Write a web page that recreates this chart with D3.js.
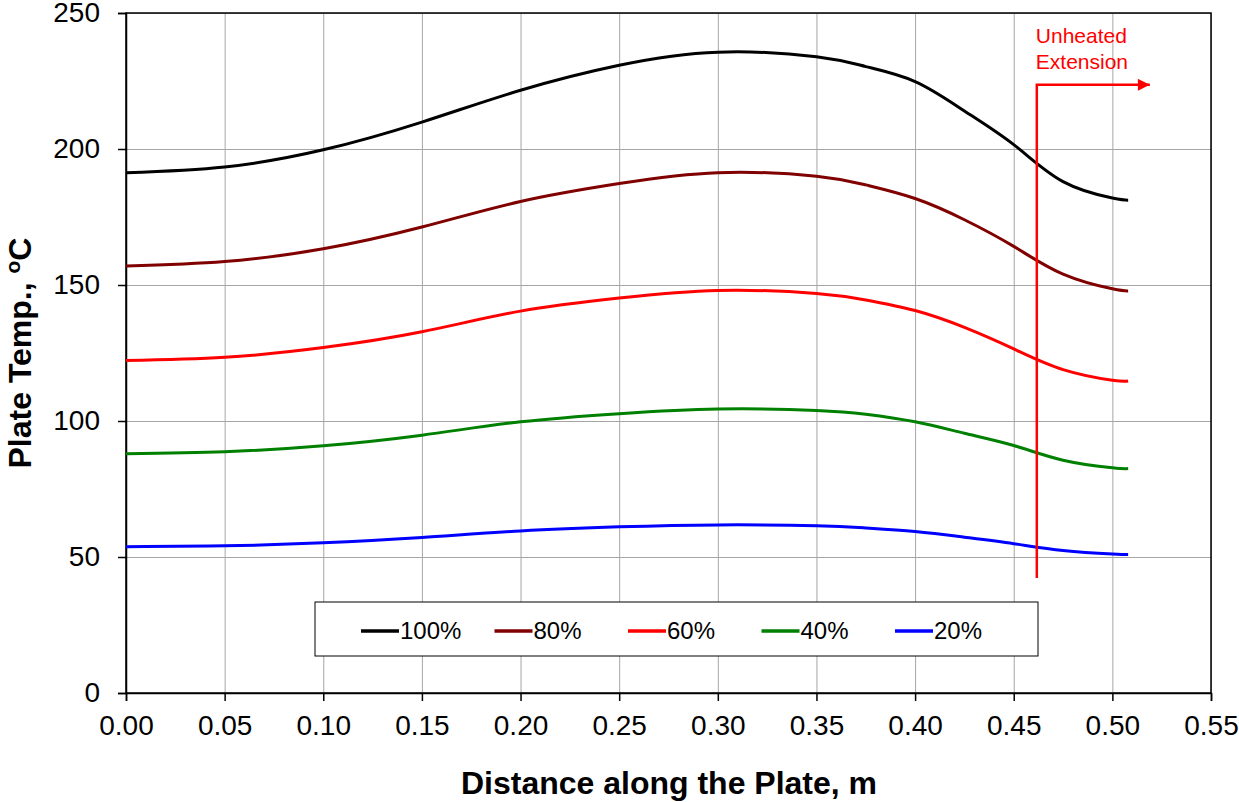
<!DOCTYPE html>
<html>
<head>
<meta charset="utf-8">
<script src="https://cdn.jsdelivr.net/npm/d3@7"></script>
<style>
  body { margin: 0; background: #fff; }
  svg { font-family: Arial, "Liberation Sans", sans-serif; }
  .grid line { stroke: #a6a6a6; stroke-width: 1; }
  .grid path { display: none; }
  .axis text { font-size: 28px; fill: #000; }
  .axis path, .axis line { stroke: #000; stroke-width: 1.5; }
  .label { font-size: 32px; font-weight: bold; }
  .legend text { font-size: 24px; }
</style>
</head>
<body>
<svg width="1239" height="802"></svg>
<script>
// distance along the plate (m)
const distance = [0, 0.05, 0.10, 0.15, 0.20, 0.25, 0.30, 0.35, 0.375, 0.40, 0.425, 0.45, 0.475, 0.50, 0.508];

// plate temperature (C) for each power level
const temp100 = [191.3, 193.4, 199.7, 209.9, 221.6, 230.8, 235.6, 233.9, 230.3, 224.8, 214.0, 201.6, 188.0, 182.0, 181.2];
const temp80  = [157.0, 158.6, 163.3, 171.3, 180.7, 187.3, 191.3, 190.0, 186.8, 181.8, 174.0, 164.2, 154.0, 148.6, 147.8];
const temp60  = [122.2, 123.4, 127.0, 132.8, 140.4, 145.2, 148.0, 146.9, 144.5, 140.6, 134.4, 126.5, 118.9, 115.0, 114.7];
const temp40  = [88.0, 88.7, 90.9, 94.8, 99.7, 102.7, 104.4, 103.9, 102.5, 99.7, 95.5, 91.0, 85.6, 82.8, 82.5];
const temp20  = [53.8, 54.1, 55.2, 57.2, 59.6, 61.1, 61.8, 61.5, 60.7, 59.4, 57.3, 54.9, 52.4, 51.1, 50.9];

const seriesNames = ['100%', '80%', '60%', '40%', '20%'];
const seriesValues = [temp100, temp80, temp60, temp40, temp20];
const seriesColors = ['#000000', '#800000', '#ff0000', '#008000', '#0000ff'];

const xTickValues = [0, 0.05, 0.10, 0.15, 0.20, 0.25, 0.30, 0.35, 0.40, 0.45, 0.50, 0.55];
const yTickValues = [0, 50, 100, 150, 200, 250];

// unheated extension marker (data units)
const unheatedX = 0.4617;
const unheatedBottom = 42.3;
const unheatedTop = 223.6;
const unheatedArrowEnd = 0.519;

const svg = d3.select('svg');
const margin = { top: 13, right: 28, bottom: 109, left: 126 };
const width = 1239 - margin.left - margin.right;
const height = 802 - margin.top - margin.bottom;

const chart = svg.append('g')
  .attr('transform', `translate(${margin.left}, ${margin.top})`);

const xScale = d3.scaleLinear().domain([0, 0.55]).range([0, width]);
const yScale = d3.scaleLinear().domain([0, 250]).range([height, 0]);

// gridlines
chart.append('g')
  .attr('class', 'grid')
  .call(d3.axisLeft(yScale).tickValues(yTickValues).tickSize(-width).tickFormat(''));
chart.append('g')
  .attr('class', 'grid')
  .attr('transform', `translate(0, ${height})`)
  .call(d3.axisBottom(xScale).tickValues(xTickValues).tickSize(-height).tickFormat(''));

// frame
chart.append('rect')
  .attr('width', width)
  .attr('height', height)
  .attr('fill', 'none')
  .attr('stroke', '#000')
  .attr('stroke-width', 1.5);

// axes
chart.append('g')
  .attr('class', 'axis')
  .attr('transform', `translate(0, ${height})`)
  .call(d3.axisBottom(xScale).tickValues(xTickValues).tickSizeOuter(0).tickSize(8).tickPadding(14).tickFormat(d3.format('.2f')));

chart.append('g')
  .attr('class', 'axis')
  .call(d3.axisLeft(yScale).tickValues(yTickValues).tickSizeOuter(0).tickSize(8).tickPadding(18).tickFormat(d3.format('d')));

// curves - smooth spline through the read points
const line = d3.line()
  .x((d, i) => xScale(distance[i]))
  .y((d) => yScale(d))
  .curve(d3.curveNatural);

chart.selectAll('.series')
  .data(seriesValues)
  .enter()
  .append('path')
  .attr('class', 'series')
  .attr('fill', 'none')
  .attr('stroke', (d, i) => seriesColors[i])
  .attr('stroke-width', 3)
  .attr('d', line);

// unheated extension marker
svg.append('defs').append('marker')
  .attr('id', 'arrow')
  .attr('viewBox', '0 0 10 10')
  .attr('refX', 10)
  .attr('refY', 5)
  .attr('markerUnits', 'userSpaceOnUse')
  .attr('markerWidth', 13)
  .attr('markerHeight', 12)
  .attr('orient', 'auto')
  .append('path')
  .attr('d', 'M0,0 L10,5 L0,10 Z')
  .attr('fill', '#ff0000');

chart.append('path')
  .attr('d', `M${xScale(unheatedX)},${yScale(unheatedBottom)} V${yScale(unheatedTop)} H${xScale(unheatedArrowEnd)}`)
  .attr('fill', 'none')
  .attr('stroke', '#ff0000')
  .attr('stroke-width', 2.5)
  .attr('marker-end', 'url(#arrow)');

const note = chart.append('text')
  .attr('fill', '#ff0000')
  .attr('font-size', 21);
note.append('tspan').attr('x', xScale(unheatedX) - 1).attr('y', 30).text('Unheated');
note.append('tspan').attr('x', xScale(unheatedX) - 1).attr('y', 56).text('Extension');

// legend
const legend = chart.append('g')
  .attr('class', 'legend')
  .attr('transform', `translate(${315 - margin.left}, ${602 - margin.top})`);

legend.append('rect')
  .attr('width', 723)
  .attr('height', 54)
  .attr('fill', '#fff')
  .attr('stroke', '#000')
  .attr('stroke-width', 1);

const legendItems = legend.selectAll('.item')
  .data(seriesNames)
  .enter()
  .append('g')
  .attr('class', 'item')
  .attr('transform', (d, i) => `translate(${46 + i * 133.5}, 29)`);

legendItems.append('line')
  .attr('x1', 0).attr('x2', 38)
  .attr('stroke', (d, i) => seriesColors[i])
  .attr('stroke-width', 3.5);

legendItems.append('text')
  .attr('x', 39)
  .attr('dy', '0.35em')
  .text((d) => d);

// axis titles
svg.append('text')
  .attr('class', 'label')
  .attr('x', 669)
  .attr('y', 794)
  .attr('text-anchor', 'middle')
  .text('Distance along the Plate, m');

const yTitle = svg.append('text')
  .attr('class', 'label')
  .attr('transform', 'translate(31, 353) rotate(-90)')
  .attr('text-anchor', 'middle');
yTitle.append('tspan').text('Plate Temp., ');
yTitle.append('tspan').attr('dy', -11).style('font-size', '21px').text('o');
yTitle.append('tspan').attr('dy', 11).text('C');
</script>
</body>
</html>
